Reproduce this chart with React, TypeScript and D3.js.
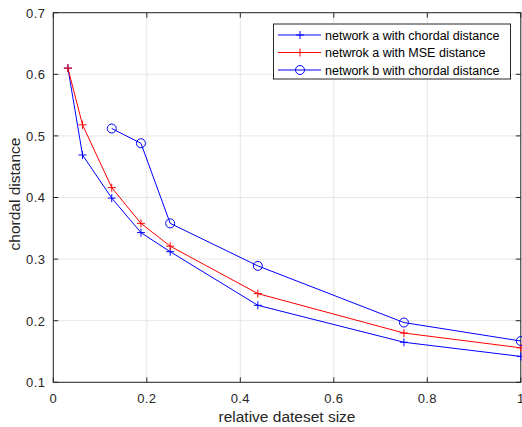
import React from "react";
import * as d3 from "d3";

const xValues = [0.03125, 0.0625, 0.125, 0.1875, 0.25, 0.4375, 0.75, 1];
const seriesA = [0.61, 0.469, 0.399, 0.343, 0.312, 0.225, 0.165, 0.142];
const seriesMSE = [0.61, 0.518, 0.416, 0.358, 0.321, 0.244, 0.18, 0.156];
const xValuesB = [0.125, 0.1875, 0.25, 0.4375, 0.75, 1];
const seriesB = [0.512, 0.488, 0.358, 0.289, 0.197, 0.167];
const xTicks = [0, 0.2, 0.4, 0.6, 0.8, 1];
const yTicks = [0.1, 0.2, 0.3, 0.4, 0.5, 0.6, 0.7];
const legendLabels = [
  "network a with chordal distance",
  "netwrok a with MSE distance",
  "network b with chordal distance",
];

const W = 522, H = 427;
const L = 53.3, R = 520.8, T = 12.7, B = 382.3;
const font = "'Liberation Sans', Arial, Helvetica, sans-serif";
const axisColor = "#262626";

export default function App() {
  const x = d3.scaleLinear().domain([0, 1]).range([L, R]);
  const y = d3.scaleLinear().domain([0.1, 0.7]).range([B, T]);
  const line = d3.line<[number, number]>().x((d) => x(d[0])).y((d) => y(d[1]));
  const ptsA = xValues.map((v, i) => [v, seriesA[i]] as [number, number]);
  const ptsM = xValues.map((v, i) => [v, seriesMSE[i]] as [number, number]);
  const ptsB = xValuesB.map((v, i) => [v, seriesB[i]] as [number, number]);
  const plus = (cx: number, cy: number, color: string, key: string) => (
    <path key={key} d={`M${cx - 4},${cy}H${cx + 4}M${cx},${cy - 4}V${cy + 4}`} stroke={color} strokeWidth={1} fill="none" />
  );
  const circ = (cx: number, cy: number, color: string, key: string) => (
    <circle key={key} cx={cx} cy={cy} r={4.5} stroke={color} strokeWidth={1} fill="none" />
  );
  const lx0 = 278, lx1 = 321, lmx = 300, ltx = 325;
  const ly = [35, 52.5, 70];
  return (
    <svg width={W} height={H} style={{ position: "absolute", left: 0, top: 0, background: "#fff" }}>
      <rect x={0} y={0} width={W} height={H} fill="#fff" />
      {/* grid */}
      {xTicks.map((t) => (
        <line key={"gx" + t} x1={x(t)} x2={x(t)} y1={T} y2={B} stroke="#e6e6e6" strokeWidth={1} />
      ))}
      {yTicks.map((t) => (
        <line key={"gy" + t} x1={L} x2={R} y1={y(t)} y2={y(t)} stroke="#e6e6e6" strokeWidth={1} />
      ))}
      {/* box */}
      <rect x={L} y={T} width={R - L} height={B - T} fill="none" stroke={axisColor} strokeWidth={1} />
      {/* ticks */}
      {xTicks.map((t) => (
        <g key={"tx" + t}>
          <line x1={x(t)} x2={x(t)} y1={B} y2={B - 5} stroke={axisColor} />
          <line x1={x(t)} x2={x(t)} y1={T} y2={T + 5} stroke={axisColor} />
          <text x={x(t)} y={B + 21} textAnchor="middle" fontFamily={font} fontSize={13} letterSpacing={0.4} fill={axisColor}>
            {d3.format("~g")(t)}
          </text>
        </g>
      ))}
      {yTicks.map((t) => (
        <g key={"ty" + t}>
          <line x1={L} x2={L + 5} y1={y(t)} y2={y(t)} stroke={axisColor} />
          <line x1={R} x2={R - 5} y1={y(t)} y2={y(t)} stroke={axisColor} />
          <text x={L - 8} y={y(t) + 4.8} textAnchor="end" fontFamily={font} fontSize={13} letterSpacing={0.4} fill={axisColor}>
            {d3.format(".1f")(t)}
          </text>
        </g>
      ))}
      <text x={287} y={422} textAnchor="middle" fontFamily={font} fontSize={15.5} fill={axisColor}>
        relative dateset size
      </text>
      <text transform={`translate(20,194) rotate(-90)`} textAnchor="middle" fontFamily={font} fontSize={15.5} fill={axisColor}>
        chordal distance
      </text>
      {/* series */}
      <path d={line(ptsA) || ""} stroke="#0000ff" fill="none" strokeWidth={1} />
      {ptsA.map((p, i) => plus(x(p[0]), y(p[1]), "#0000ff", "a" + i))}
      <path d={line(ptsM) || ""} stroke="#ff0000" fill="none" strokeWidth={1} />
      {ptsM.map((p, i) => plus(x(p[0]), y(p[1]), "#ff0000", "m" + i))}
      <path d={line(ptsB) || ""} stroke="#0000ff" fill="none" strokeWidth={1} />
      {ptsB.map((p, i) => circ(x(p[0]), y(p[1]), "#0000ff", "b" + i))}
      {/* legend */}
      <rect x={273.5} y={24} width={237} height={55} fill="#fff" stroke={axisColor} strokeWidth={1} />
      {legendLabels.map((lab, i) => {
        const c = i === 1 ? "#ff0000" : "#0000ff";
        return (
          <g key={"lg" + i}>
            <line x1={lx0} x2={lx1} y1={ly[i]} y2={ly[i]} stroke={c} strokeWidth={1} />
            {i === 2 ? circ(lmx, ly[i], c, "lc" + i) : plus(lmx, ly[i], c, "lp" + i)}
            <text x={ltx} y={ly[i] + 4.5} fontFamily={font} fontSize={12.5} fill="#000">
              {lab}
            </text>
          </g>
        );
      })}
    </svg>
  );
}
